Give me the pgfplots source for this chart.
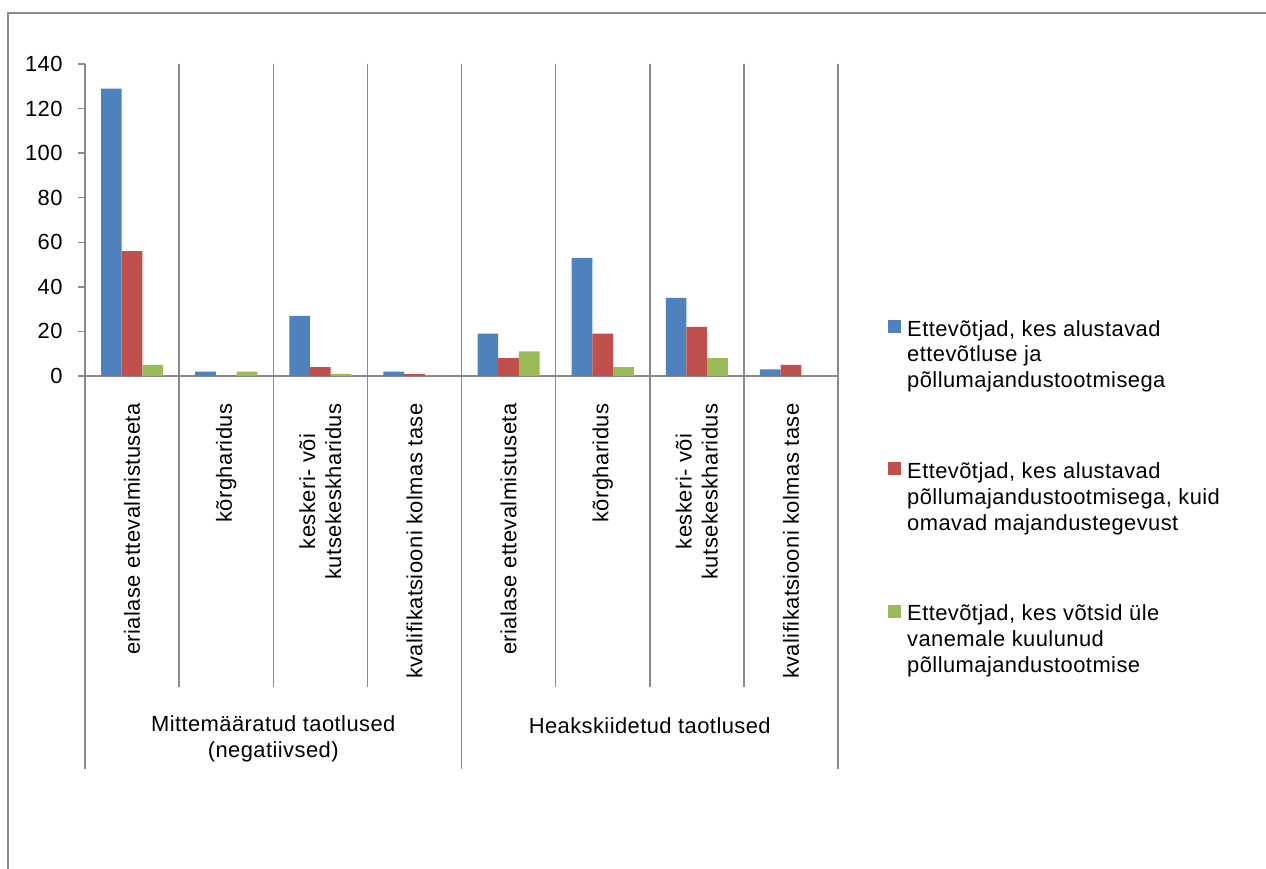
\documentclass[border=0pt]{standalone}
\usepackage{fontspec}
\setmainfont[LetterSpace=2]{Liberation Sans}
\usepackage{pgfplots}
\pgfplotsset{compat=1.18}
\usepackage{pgfplotstable}

\definecolor{sblue}{HTML}{4F81BD}
\definecolor{sred}{HTML}{C0504D}
\definecolor{sgreen}{HTML}{9BBB59}
\definecolor{lgray}{HTML}{8A8A8A}

% x: 0-3 Mittemaaratud, 4-7 Heakskiidetud
\pgfplotstableread{
x blue red green
0 129 56 5
1 2 0 2
2 27 4 1
3 2 1 0
4 19 8 11
5 53 19 4
6 35 22 8
7 3 5 0
}\datatable

\begin{document}
\begin{tikzpicture}[font=\fontsize{22}{26}\selectfont]
\useasboundingbox (0,0) rectangle (1266bp,869bp);
\draw[lgray, line width=2bp] (8bp,-5bp) -- (8bp,856bp) -- (1275bp,856bp);
\begin{axis}[
  at={(85bp,493bp)}, anchor=south west,
  scale only axis, width=753bp, height=312bp,
  ybar=0pt, bar width=0.22,
  xmin=-0.5, xmax=7.5, ymin=0, ymax=140,
  ytick={0,20,...,140},
  xtick=data,
  xticklabels={erialase ettevalmistuseta, kõrgharidus, {keskeri- või\\kutsekeskharidus}, kvalifikatsiooni kolmas tase,
               erialase ettevalmistuseta, kõrgharidus, {keskeri- või\\kutsekeskharidus}, kvalifikatsiooni kolmas tase},
  axis x line*=bottom, axis y line*=left,
  axis line style={lgray, line width=1.5bp, -},
  ytick style={lgray, line width=1.5bp},
  xtick style={draw=none},
  tick align=outside, major tick length=7bp,
  /pgf/number format/assume math mode=true,
  xticklabel style={rotate=90, anchor=east, align=center},
  xticklabel shift=17bp,
  yticklabel shift=12bp,
  clip=false,
  legend style={at={(1.0664,0.1795)}, anchor=north west, draw=none, inner sep=0pt,
    nodes={inner sep=0pt}, cells={anchor=west, align=left}, row sep=73bp, column sep=6bp},
  legend image code/.code={\fill[#1] (0bp,21.5bp) rectangle (13bp,34.5bp);},
]
\addplot[fill=sblue, draw=none] table[x=x, y=blue] {\datatable};
\addlegendentry{Ettevõtjad, kes alustavad\\ettevõtluse ja\\põllumajandustootmisega}
\addplot[fill=sred, draw=none] table[x=x, y=red] {\datatable};
\addlegendentry{Ettevõtjad, kes alustavad\\põllumajandustootmisega, kuid\\omavad majandustegevust}
\addplot[fill=sgreen, draw=none] table[x=x, y=green] {\datatable};
\addlegendentry{Ettevõtjad, kes võtsid üle\\vanemale kuulunud\\põllumajandustootmise}

% category separators
\draw[lgray, line width=1.5bp] (axis cs:0.5,140) -- ++(0bp,-623bp);
\draw[lgray, line width=1.5bp] (axis cs:1.5,140) -- ++(0bp,-623bp);
\draw[lgray, line width=1.5bp] (axis cs:2.5,140) -- ++(0bp,-623bp);
\draw[lgray, line width=1.5bp] (axis cs:4.5,140) -- ++(0bp,-623bp);
\draw[lgray, line width=1.5bp] (axis cs:5.5,140) -- ++(0bp,-623bp);
\draw[lgray, line width=1.5bp] (axis cs:6.5,140) -- ++(0bp,-623bp);
\draw[lgray, line width=1.5bp] (axis cs:-0.5,0) -- ++(0bp,-393bp);
\draw[lgray, line width=1.5bp] (axis cs:3.5,140) -- ++(0bp,-705bp);
\draw[lgray, line width=1.5bp] (axis cs:7.5,140) -- ++(0bp,-705bp);

% group labels
\node[align=center] at ([yshift=-363bp]axis cs:1.5,0) {Mittemääratud taotlused\\(negatiivsed)};
\node at ([yshift=-350bp]axis cs:5.5,0) {Heakskiidetud taotlused};
\end{axis}
\end{tikzpicture}
\end{document}
